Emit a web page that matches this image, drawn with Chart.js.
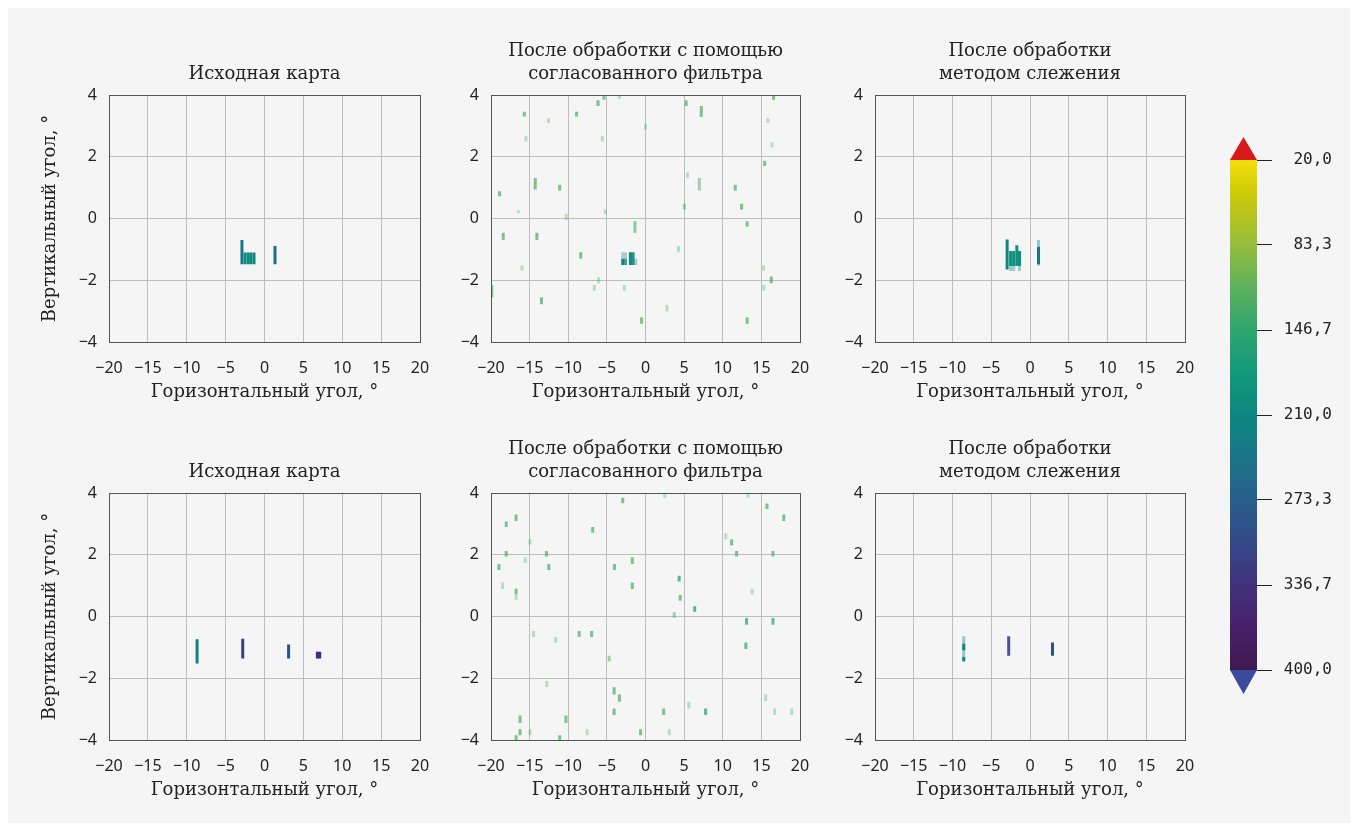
<!DOCTYPE html>
<html><head><meta charset="utf-8">
<script src="https://cdn.jsdelivr.net/npm/chart.js@4/dist/chart.umd.min.js"></script>
<style>
html,body{margin:0;padding:0;background:#ffffff;}
#bg{position:absolute;left:8px;top:8px;width:1342px;height:815px;background:#f5f5f5;}
canvas{position:absolute;}
</style></head><body>
<div id="bg"></div>
<canvas id="p1" width="392" height="365" style="left:40px;top:38px"></canvas>
<canvas id="p2" width="361" height="365" style="left:451px;top:38px"></canvas>
<canvas id="p3" width="362" height="365" style="left:835px;top:38px"></canvas>
<canvas id="p4" width="392" height="365" style="left:40px;top:436px"></canvas>
<canvas id="p5" width="361" height="365" style="left:451px;top:436px"></canvas>
<canvas id="p6" width="362" height="365" style="left:835px;top:436px"></canvas>
<canvas id="cb" width="102" height="570" style="left:1230px;top:130px"></canvas>
<script>
// ---- texts ----
const titleOriginal = ['Исходная карта'];
const titleMatched = ['После обработки с помощью', 'согласованного фильтра'];
const titleTracking = ['После обработки', 'методом слежения'];
const xAxisTitle = 'Горизонтальный угол, °';
const yAxisTitle = 'Вертикальный угол, °';

// ---- axes ----
const xRange = [-20, 20];
const yRange = [-4, 4];
const xStep = 5;
const yStep = 2;

// ---- colour scale ----
const colorbarTicks = [20, 83.3, 146.7, 210, 273.3, 336.7, 400];
const cmapStops = [[20,'#f4df0c'],[45,'#cdcb08'],[83.3,'#95bd3c'],[115,'#5db15d'],[146.7,'#2ea66f'],[178,'#14997b'],[210,'#0b8780'],[241,'#1b7589'],[273.3,'#285f8b'],[305,'#34498a'],[336.7,'#42317c'],[368,'#47206a'],[400,'#3e1950']];

// ---- marks: [x, yTop, yBottom, value, opacity] ----
const marksTopOriginal = [
  [-2.9, -0.70, -1.48, 235, 1],
  [-2.5, -1.10, -1.48, 205, 1],
  [-2.1, -1.10, -1.48, 205, 1],
  [-1.75, -1.10, -1.48, 205, 1],
  [-1.35, -1.10, -1.48, 205, 1],
  [1.35, -0.89, -1.48, 250, 1]
];
const marksTopMatched = [
  [-15.68,3.46,3.30,130,.7],[-12.56,3.25,3.09,130,.35],[-8.93,3.46,3.30,130,.7],[-6.15,3.83,3.64,130,.7],
  [-5.38,4.0,3.85,130,.7],[-3.38,4.0,3.87,130,.35],[5.26,3.83,3.64,130,.7],[7.22,3.64,3.29,130,.7],
  [16.58,4.0,3.85,130,.7],[-15.47,2.67,2.49,130,.35],[-5.6,2.67,2.49,130,.35],[0.0,3.07,2.88,130,.35],
  [15.85,3.25,3.09,130,.35],[16.37,2.47,2.31,130,.35],[15.43,1.87,1.70,130,.7],[-14.27,1.31,0.94,130,.7],
  [-11.11,1.09,0.91,130,.7],[-18.89,0.88,0.72,130,.7],[-16.45,0.27,0.18,130,.35],[-10.26,0.15,-0.05,130,.35],
  [-5.21,0.29,0.15,130,.35],[5.43,1.49,1.32,130,.35],[6.97,1.31,0.91,130,.5],[11.62,1.09,0.91,130,.7],
  [5.04,0.48,0.29,130,.5],[12.44,0.48,0.29,130,.7],[13.16,-0.09,-0.27,130,.7],[-1.37,-0.09,-0.46,130,.6],
  [-18.42,-0.46,-0.70,130,.7],[-14.06,-0.46,-0.70,130,.7],[-8.38,-1.09,-1.30,130,.7],[4.27,-0.89,-1.09,130,.35],
  [-15.98,-1.52,-1.69,130,.35],[15.3,-1.52,-1.69,130,.35],[16.28,-1.88,-2.10,130,.7],[15.3,-2.15,-2.34,130,.35],
  [-19.9,-2.15,-2.55,130,.7],[-6.62,-2.15,-2.34,130,.35],[-6.07,-1.90,-2.10,130,.35],[-2.74,-2.15,-2.34,130,.35],
  [-13.46,-2.55,-2.78,130,.7],[2.78,-2.80,-3.01,130,.35],[-0.51,-3.20,-3.41,130,.7],[13.16,-3.20,-3.41,130,.7],
  [-2.95,-1.09,-1.30,245,.3],[-2.6,-1.09,-1.30,245,.3],[-2.95,-1.30,-1.51,205,1],[-2.6,-1.30,-1.51,205,.8],
  [-1.95,-1.09,-1.51,205,1],[-1.6,-1.09,-1.51,205,.9],[-1.25,-1.30,-1.51,200,.35]
];
const marksTopTracking = [
  [-2.95, -0.68, -1.65, 215, 1],
  [-2.5, -1.05, -1.54, 195, 1],
  [-2.1, -1.05, -1.54, 195, 1],
  [-1.7, -0.87, -1.54, 195, 1],
  [-1.35, -1.05, -1.54, 195, 1],
  [-2.5, -1.54, -1.70, 195, .4],
  [-2.1, -1.54, -1.70, 195, .4],
  [-1.35, -1.54, -1.70, 195, .4],
  [1.1, -0.70, -1.52, 240, .4],
  [1.1, -0.92, -1.48, 250, 1]
];
const marksBottomOriginal = [
  [-8.67, -0.74, -1.52, 222, 1],
  [-2.8, -0.72, -1.36, 320, 1],
  [3.1, -0.91, -1.36, 300, 1],
  [6.8, -1.14, -1.36, 345, 1],
  [7.1, -1.14, -1.36, 345, 1]
];
const marksBottomMatched = [
  [-2.95,3.85,3.67,130,.7],[2.48,4.0,3.85,130,.35],[13.29,4.0,3.85,130,.35],[15.73,3.66,3.48,130,.7],
  [17.9,3.30,3.09,130,.7],[-16.75,3.30,3.09,130,.7],[-18.03,3.08,2.90,130,.7],[-6.84,2.90,2.71,130,.7],
  [-14.96,2.50,2.33,130,.35],[10.38,2.70,2.50,130,.35],[11.15,2.50,2.30,130,.7],[-18.03,2.12,1.94,130,.7],
  [-12.82,2.12,1.94,130,.7],[11.79,2.12,1.94,130,.7],[16.5,2.12,1.94,130,.7],[-15.56,1.92,1.73,130,.35],
  [-18.97,1.70,1.51,130,.7],[-12.52,1.70,1.51,130,.7],[-4.02,1.70,1.51,130,.7],[-1.71,1.92,1.70,130,.7],
  [4.36,1.32,1.13,175,.7],[-18.5,1.10,0.89,130,.35],[-1.71,1.10,0.89,130,.7],[-16.75,0.90,0.72,130,.7],
  [-16.75,0.72,0.54,130,.35],[13.8,0.90,0.72,130,.35],[4.49,0.70,0.51,130,.7],[6.37,0.33,0.15,185,.7],
  [3.72,0.14,-0.04,130,.5],[13.08,-0.05,-0.27,165,.7],[16.5,-0.05,-0.27,150,.7],[-14.49,-0.47,-0.66,130,.35],
  [-8.59,-0.47,-0.66,130,.7],[-6.97,-0.47,-0.66,130,.7],[-11.62,-0.66,-0.85,130,.35],[12.99,-0.84,-1.05,150,.7],
  [-4.7,-1.27,-1.46,130,.5],[-12.78,-2.09,-2.29,130,.35],[-4.06,-2.29,-2.53,130,.7],[-3.38,-2.53,-2.76,130,.7],
  [15.56,-2.53,-2.74,130,.35],[5.6,-2.76,-2.98,130,.35],[-4.06,-2.98,-3.19,130,.7],[2.35,-2.98,-3.19,130,.7],
  [7.78,-2.98,-3.19,175,.7],[16.71,-2.98,-3.19,130,.35],[18.93,-2.98,-3.19,130,.35],[-16.24,-3.21,-3.45,130,.7],
  [-10.30,-3.21,-3.45,130,.7],[-16.24,-3.65,-3.85,130,.7],[-14.96,-3.65,-3.85,130,.35],[-16.75,-3.85,-4.0,130,.7],
  [-11.11,-3.85,-4.0,130,.7],[-7.56,-3.65,-3.85,130,.35],[-0.64,-3.65,-3.85,130,.7],[3.08,-3.65,-3.85,130,.35]
];
const marksBottomTracking = [
  [-8.55, -0.64, -1.46, 230, .4],
  [-8.55, -0.88, -1.09, 205, 1],
  [-8.55, -1.31, -1.45, 205, 1],
  [-2.75, -0.64, -1.27, 318, .9],
  [2.9, -0.84, -1.27, 305, 1]
];

// ---- helpers ----
function hexToRgb(h){return [parseInt(h.substr(1,2),16),parseInt(h.substr(3,2),16),parseInt(h.substr(5,2),16)];}
function cmap(v, a){
  let i = 0;
  while (i < cmapStops.length - 2 && v > cmapStops[i+1][0]) i++;
  const [v0,c0] = cmapStops[i], [v1,c1] = cmapStops[i+1];
  const t = Math.max(0, Math.min(1, (v - v0) / (v1 - v0)));
  const a0 = hexToRgb(c0), a1 = hexToRgb(c1);
  const rgb = a0.map((q, k) => Math.round(q + (a1[k] - q) * t));
  return 'rgba(' + rgb.join(',') + ',' + a + ')';
}
const minus = s => String(s).replace('-', '\u2212');
const serif = 'DejaVu Serif';
const sans = 'Noto Sans';

const framePlugin = {
  id: 'frame',
  afterDraw(chart){
    const {ctx, chartArea:a} = chart;
    ctx.save(); ctx.strokeStyle = '#555'; ctx.lineWidth = 1;
    ctx.strokeRect(Math.round(a.left)+0.5, Math.round(a.top)+0.5, Math.round(a.right-a.left), Math.round(a.bottom-a.top));
    ctx.restore();
  }
};

function makePanel(id, title, marks, showYTitle){
  const data = [];
  marks.forEach(m => {
    const c = cmap(m[3], m[4]);
    data.push({x: m[0], y: m[1], c});
    data.push({x: m[0], y: m[2], c});
    data.push({x: m[0], y: null, c});
  });
  new Chart(document.getElementById(id), {
    type: 'scatter',
    data: {datasets: [{
      data, showLine: true, spanGaps: false, pointRadius: 0, pointHoverRadius: 0,
      borderWidth: 3, borderCapStyle: 'butt', borderColor: 'rgba(0,0,0,0)',
      segment: {borderColor: ctx => data[ctx.p0DataIndex].c}
    }]},
    options: {
      responsive: false, animation: false, events: [],
      layout: {padding: {left: 0, right: 12, top: title.length === 1 ? 25 : 2, bottom: 0}},
      plugins: {
        legend: {display: false}, tooltip: {enabled: false},
        title: {display: true, fullSize: false, text: title, color: '#222', font: {family: serif, size: 18, weight: 'normal', lineHeight: 23/18}, padding: {top: 0, bottom: 9}}
      },
      scales: {
        x: {
          type: 'linear', min: xRange[0], max: xRange[1],
          afterBuildTicks: s => { s.ticks = []; for (let v = xRange[0]; v <= xRange[1]; v += xStep) s.ticks.push({value: v}); },
          ticks: {callback: v => minus(v), color: '#222', font: {family: sans, size: 16}, padding: 17, maxRotation: 0, autoSkip: false},
          grid: {color: '#bdbdbd', drawTicks: false, lineWidth: 1},
          border: {display: false},
          title: {display: true, text: xAxisTitle, color: '#222', font: {family: serif, size: 18, lineHeight: 1.2}, padding: 0},
          afterFit: s => { s.height = 61; s.paddingLeft = 0; s.paddingRight = 0; }
        },
        y: {
          type: 'linear', min: yRange[0], max: yRange[1],
          afterBuildTicks: s => { s.ticks = []; for (let v = yRange[0]; v <= yRange[1]; v += yStep) s.ticks.push({value: v}); },
          ticks: {callback: v => minus(v), color: '#222', font: {family: sans, size: 16}, padding: 12, autoSkip: false},
          grid: {color: '#bdbdbd', drawTicks: false, lineWidth: 1},
          border: {display: false},
          title: {display: showYTitle, text: yAxisTitle, color: '#222', font: {family: serif, size: 18, lineHeight: 1.2}, padding: 0},
          afterFit: s => { s.width = showYTitle ? 69 : 40; s.paddingTop = 0; s.paddingBottom = 0; }
        }
      }
    },
    plugins: [framePlugin]
  });
}

makePanel('p1', titleOriginal, marksTopOriginal, true);
makePanel('p2', titleMatched, marksTopMatched, false);
makePanel('p3', titleTracking, marksTopTracking, false);
makePanel('p4', titleOriginal, marksBottomOriginal, true);
makePanel('p5', titleMatched, marksBottomMatched, false);
makePanel('p6', titleTracking, marksBottomTracking, false);

// ---- colour bar ----
const cbMin = colorbarTicks[0], cbMax = colorbarTicks[colorbarTicks.length - 1];
const arrowPlugin = {
  id: 'arrows',
  afterDatasetsDraw(chart){
    const bar = chart.getDatasetMeta(0).data[0];
    const y = chart.scales.y;
    const x0 = bar.x - bar.width / 2, x1 = bar.x + bar.width / 2;
    const yt = y.getPixelForValue(cbMin), yb = y.getPixelForValue(cbMax);
    const ctx = chart.ctx;
    ctx.save();
    ctx.fillStyle = '#d7191c';
    ctx.beginPath(); ctx.moveTo(x0, yt); ctx.lineTo(x1, yt); ctx.lineTo(bar.x, yt - 23); ctx.closePath(); ctx.fill();
    ctx.fillStyle = '#3b4b9e';
    ctx.beginPath(); ctx.moveTo(x0, yb); ctx.lineTo(x1, yb); ctx.lineTo(bar.x, yb + 24); ctx.closePath(); ctx.fill();
    ctx.restore();
  }
};
new Chart(document.getElementById('cb'), {
  type: 'bar',
  data: {labels: [''], datasets: [{
    data: [[cbMin, cbMax]], barPercentage: 1, categoryPercentage: 1, borderWidth: 0, borderSkipped: false,
    backgroundColor: ctx => {
      const ch = ctx.chart; if (!ch.chartArea) return '#888';
      const y = ch.scales.y;
      const g = ch.ctx.createLinearGradient(0, y.getPixelForValue(cbMin), 0, y.getPixelForValue(cbMax));
      cmapStops.forEach(([v, c]) => g.addColorStop((v - cbMin) / (cbMax - cbMin), c));
      return g;
    }
  }]},
  options: {
    responsive: false, animation: false, events: [],
    layout: {padding: {left: 0, right: 0, top: 30, bottom: 30}},
    plugins: {legend: {display: false}, tooltip: {enabled: false}, title: {display: false}},
    scales: {
      x: {display: false},
      y: {
        position: 'right', reverse: true, min: cbMin, max: cbMax,
        afterBuildTicks: s => { s.ticks = colorbarTicks.map(v => ({value: v})); },
        ticks: {callback: v => v.toFixed(1).replace('.', ','), color: '#222', font: {family: 'DejaVu Sans Mono', size: 16}, padding: 8, crossAlign: 'far', autoSkip: false},
        grid: {drawOnChartArea: false, drawTicks: true, tickLength: 15, color: '#222', lineWidth: 1},
        border: {display: false},
        afterFit: s => { s.width = 75; }
      }
    }
  },
  plugins: [arrowPlugin]
});
</script>
</body></html>
